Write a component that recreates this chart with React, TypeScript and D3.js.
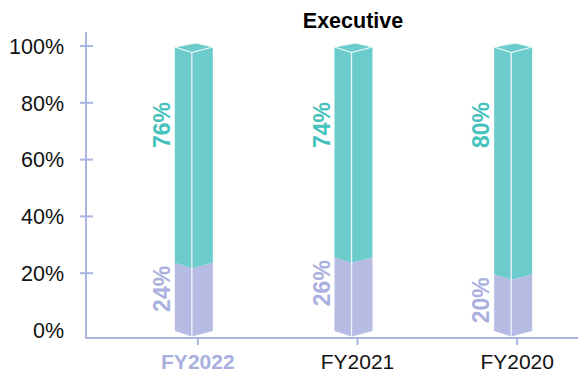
import React from "react";
import * as d3 from "d3";

const categories = ["FY2022", "FY2021", "FY2020"];
const upperValues = [76, 74, 80];
const lowerValues = [24, 26, 20];
const yTicks = [0, 20, 40, 60, 80, 100];
const title = "Executive";

const W = 578;
const H = 379;
const TEAL = "#6ccbcb";
const LAVENDER = "#b6bbe3";
const AXIS = "#a9b4e0";
const TEAL_TEXT = "#45c2bd";
const LAV_TEXT = "#aab0de";
const FONT = "'Liberation Sans', Arial, Helvetica, sans-serif";

export default function App() {
  const x = d3.scaleBand<string>().domain(categories).range([118, 597]).padding(0);
  const y = d3.scaleLinear().domain([0, 100]).range([331, 47]);
  const axisX = 86;
  const baseY = 338;
  const dip = 5.5; // front edge sits lower than the side edges
  const leftW = 17;
  const rightW = 21;

  const face = (pts: [number, number][]) => d3.line()(pts) + "Z";

  return (
    <svg width={W} height={H} style={{ position: "absolute", left: 0, top: 0, fontFamily: FONT }}>
      <text x={353} y={28} textAnchor="middle" fontSize={21.5} fontWeight="bold" fill="#000">
        {title}
      </text>

      {/* y axis */}
      <line x1={axisX} x2={axisX} y1={32} y2={baseY} stroke={AXIS} strokeWidth={2} />
      {yTicks.map((t) => (
        <g key={t}>
          {t > 0 && (
            <line x1={axisX - 6} x2={axisX + 7} y1={y(t) - 1} y2={y(t) - 1} stroke={AXIS} strokeWidth={2} />
          )}
          <text x={64} y={y(t) - 1} dy="0.36em" textAnchor="end" fontSize={21.5} fill="#111">
            {t}%
          </text>
        </g>
      ))}

      {/* x axis */}
      <line x1={axisX - 1} x2={W} y1={baseY} y2={baseY} stroke={AXIS} strokeWidth={2} />

      {categories.map((c, i) => {
        const cx = (x(c) ?? 0) + x.bandwidth() / 2;
        const f = cx - 6;
        const L = f - leftW;
        const R = f + rightW;
        const lo = lowerValues[i];
        const segs = [
          { a: 0, b: lo, color: LAVENDER },
          { a: lo, b: 100, color: TEAL },
        ];
        const top = y(100);
        return (
          <g key={c}>
            <line x1={cx} x2={cx} y1={baseY} y2={baseY + 7} stroke={AXIS} strokeWidth={2} />
            {segs.map((s, k) => (
              <g key={k}>
                <path
                  d={face([
                    [L, y(s.a)],
                    [f, y(s.a) + dip],
                    [f, y(s.b) + dip],
                    [L, y(s.b)],
                  ])}
                  fill={s.color}
                />
                <path
                  d={face([
                    [f, y(s.a) + dip],
                    [R, y(s.a)],
                    [R, y(s.b)],
                    [f, y(s.b) + dip],
                  ])}
                  fill={s.color}
                />
              </g>
            ))}
            {/* top cap */}
            <path
              d={face([
                [L, top],
                [L + rightW, top - 4],
                [R, top],
                [f, top + dip],
              ])}
              fill={TEAL}
              stroke="#eefafa"
              strokeWidth={1.2}
              strokeLinejoin="round"
            />
            {/* front edge highlight */}
            <line x1={f} x2={f} y1={top + dip} y2={y(0) + dip} stroke="#f2f6fb" strokeWidth={1.4} opacity={0.9} />

            {/* value labels */}
            <text
              transform={`translate(${L - 13},${top + 55}) rotate(-90)`}
              textAnchor="end"
              dy="0.36em"
              fontSize={23}
              fontWeight="bold"
              fill={TEAL_TEXT}
            >
              {upperValues[i]}%
            </text>
            <text
              transform={`translate(${L - 13},${y(lo) + 3}) rotate(-90)`}
              textAnchor="end"
              dy="0.36em"
              fontSize={23}
              fontWeight="bold"
              fill={LAV_TEXT}
            >
              {lo}%
            </text>

            {/* category label */}
            <text
              x={cx}
              y={369}
              textAnchor="middle"
              fontSize={21}
              fontWeight={i === 0 ? "bold" : "normal"}
              fill={i === 0 ? LAV_TEXT : "#111"}
            >
              {c}
            </text>
          </g>
        );
      })}
    </svg>
  );
}
